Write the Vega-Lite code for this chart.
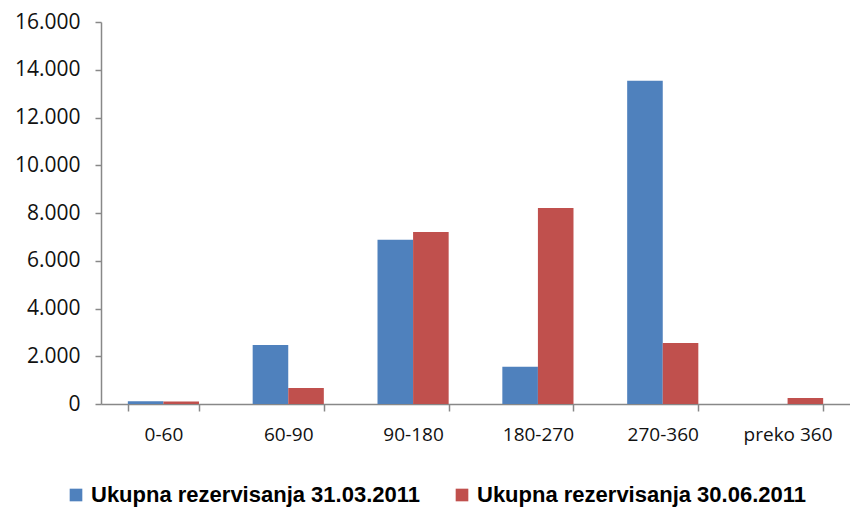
{
  "$schema": "https://vega.github.io/schema/vega-lite/v6.json",
  "width": 749,
  "height": 382,
  "autosize": {"type": "none"},
  "padding": {"left": 101, "top": 22, "right": 0, "bottom": 106},
  "background": "white",
  "config": {
    "locale": {"number": {"decimal": ",", "thousands": ".", "grouping": [3], "currency": ["", ""]}},
    "view": {"stroke": null},
    "font": "Liberation Sans"
  },
  "data": {
    "values": [
      {"cat": "0-60", "series": "Ukupna rezervisanja  31.03.2011", "value": 110},
      {"cat": "0-60", "series": "Ukupna rezervisanja 30.06.2011", "value": 100},
      {"cat": "60-90", "series": "Ukupna rezervisanja  31.03.2011", "value": 2470},
      {"cat": "60-90", "series": "Ukupna rezervisanja 30.06.2011", "value": 670},
      {"cat": "90-180", "series": "Ukupna rezervisanja  31.03.2011", "value": 6880},
      {"cat": "90-180", "series": "Ukupna rezervisanja 30.06.2011", "value": 7200},
      {"cat": "180-270", "series": "Ukupna rezervisanja  31.03.2011", "value": 1560},
      {"cat": "180-270", "series": "Ukupna rezervisanja 30.06.2011", "value": 8210},
      {"cat": "270-360", "series": "Ukupna rezervisanja  31.03.2011", "value": 13540},
      {"cat": "270-360", "series": "Ukupna rezervisanja 30.06.2011", "value": 2550},
      {"cat": "preko 360", "series": "Ukupna rezervisanja  31.03.2011", "value": 0},
      {"cat": "preko 360", "series": "Ukupna rezervisanja 30.06.2011", "value": 250}
    ]
  },
  "mark": {"type": "bar"},
  "encoding": {
    "x": {
      "field": "cat",
      "type": "nominal",
      "sort": null,
      "title": null,
      "scale": {"paddingInner": 0.43, "paddingOuter": 0.215},
      "axis": {
        "labelAngle": 0,
        "labelFontSize": 19,
        "labelFont": "Open Sans",
        "labelColor": "#111",
        "labelPadding": 14,
        "tickBand": "extent",
        "tickSize": 7,
        "tickColor": "#888",
        "tickWidth": 1.5,
        "domainColor": "#888",
        "domainWidth": 1.5,
        "grid": false
      }
    },
    "xOffset": {"field": "series", "type": "nominal", "sort": null, "scale": {"paddingInner": 0}},
    "y": {
      "field": "value",
      "type": "quantitative",
      "title": null,
      "scale": {"domain": [0, 16000]},
      "axis": {
        "values": [0, 2000, 4000, 6000, 8000, 10000, 12000, 14000, 16000],
        "format": ",d",
        "labelFontSize": 21,
        "labelFont": "Open Sans",
        "labelColor": "#111",
        "labelPadding": 15,
        "tickSize": 6,
        "tickColor": "#888",
        "tickWidth": 1.5,
        "domainColor": "#888",
        "domainWidth": 1.5,
        "grid": false
      }
    },
    "color": {
      "field": "series",
      "type": "nominal",
      "sort": null,
      "scale": {"range": ["#4F81BD", "#C0504D"]},
      "legend": {
        "title": null,
        "orient": "none",
        "legendX": -36,
        "legendY": 462,
        "direction": "horizontal",
        "symbolType": "square",
        "symbolSize": 160,
        "symbolStrokeWidth": 0,
        "labelFontSize": 22,
        "labelFontWeight": "bold",
        "labelFont": "Liberation Sans",
        "labelColor": "#000",
        "labelOffset": 4,
        "columnPadding": 24,
        "labelLimit": 450
      }
    }
  }
}
